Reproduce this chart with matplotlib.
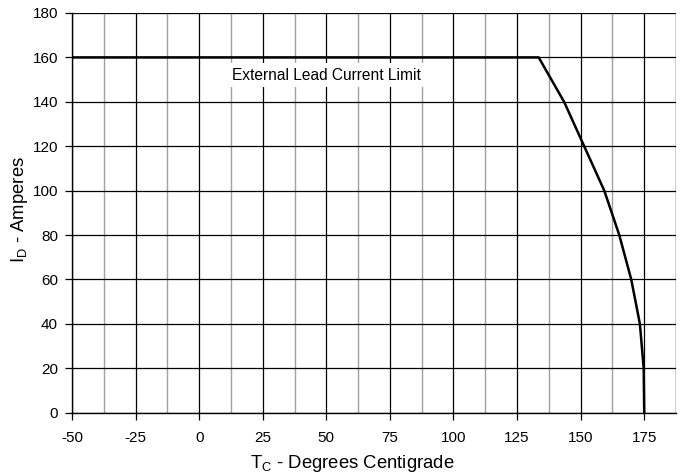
import matplotlib
matplotlib.use("Agg")
import matplotlib.pyplot as plt
import numpy as np

# Data
temp_c = [-50, 133.5, 143.5, 151.4, 159.3, 165.2, 169.9, 173.3, 174.8, 175.0]
id_amps = [160, 160, 140, 120, 100, 80, 60, 40, 20, 0]
x_ticks = [-50, -25, 0, 25, 50, 75, 100, 125, 150, 175]
y_ticks = [0, 20, 40, 60, 80, 100, 120, 140, 160, 180]
annotation = "External Lead Current Limit"

plt.rcParams['font.family'] = ['Liberation Sans', 'DejaVu Sans']
plt.rcParams['mathtext.fontset'] = 'custom'
plt.rcParams['mathtext.rm'] = 'Liberation Sans'
plt.rcParams['mathtext.it'] = 'Liberation Sans'
plt.rcParams['axes.unicode_minus'] = False

fig = plt.figure(figsize=(6.83, 4.76), dpi=100)
ax = fig.add_axes([72/683, 1-412.7/476, (676-72)/683, (412.7-13)/476])

ax.set_xlim(-50, 187.5)
ax.set_ylim(0, 180)

# grid
for xv in np.arange(-37.5, 187.6, 25):
    ax.axvline(xv, color='#a0a0a0', lw=1.0, zorder=1)
ax.axvline(187.5, color='#606060', lw=1.0, zorder=1)
for xv in x_ticks:
    ax.axvline(xv, color='black', lw=0.9, zorder=1)
for yv in y_ticks:
    ax.axhline(yv, color='black', lw=0.9, zorder=1)

ax.plot(temp_c, id_amps, color='black', lw=1.8, zorder=3)

ax.text(50, 152, annotation, ha='center', va='center', fontsize=11.2,
        bbox=dict(facecolor='white', edgecolor='none', pad=3), zorder=2)

ax.set_xticks(x_ticks)
ax.set_yticks(y_ticks)
ax.tick_params(direction='out', length=5, width=0.9, labelsize=11, color='black')
ax.tick_params(axis='x', pad=8.5)
ax.tick_params(axis='y', pad=5)

for s in ['top', 'right']:
    ax.spines[s].set_visible(False)
ax.spines['left'].set_linewidth(1.0)
ax.spines['bottom'].set_linewidth(1.0)

fig.text(352.5/683, 1-468/476, r'T$_\mathrm{C}$ - Degrees Centigrade', ha='center', va='baseline', fontsize=13.3)
fig.text(24/683, 1-209/476, r'I$_\mathrm{D}$ - Amperes', ha='center', va='baseline', fontsize=13.3,
         rotation=90, rotation_mode='anchor')

fig.savefig('out.png', dpi=100)
